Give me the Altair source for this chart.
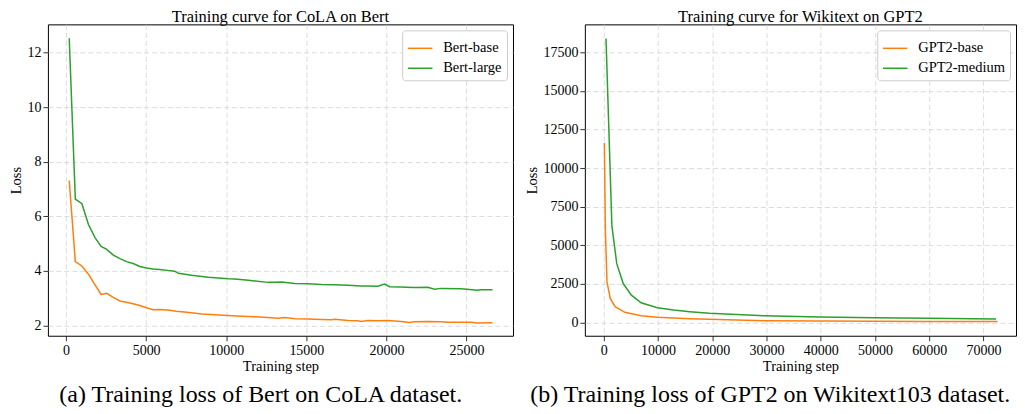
import altair as alt
import pandas as pd

FONT = "Liberation Serif"
ORANGE = "#ff7f0e"
GREEN = "#2ca02c"

# ---- Left panel: CoLA on Bert ----
bert_base_step = [200, 580, 990, 1400, 1820, 2190, 2540, 2950, 3370, 3780, 4190, 4610, 5020, 5430,
                  5850, 6470, 6880, 7220, 7840, 8470, 9300, 10100, 10960, 11790, 12620, 13240,
                  13650, 14280, 15100, 15940, 16560, 16780, 17600, 18200, 18430, 18840, 19500,
                  20090, 20920, 21430, 21750, 22580, 23400, 23820, 24650, 25270, 25690, 26620]
bert_base_loss = [7.31, 4.34, 4.18, 3.88, 3.48, 3.14, 3.18, 3.03, 2.90, 2.85, 2.80, 2.73, 2.65, 2.58,
                  2.59, 2.56, 2.52, 2.50, 2.47, 2.42, 2.39, 2.37, 2.34, 2.32, 2.29, 2.27,
                  2.29, 2.25, 2.24, 2.22, 2.21, 2.23, 2.18, 2.17, 2.15, 2.18, 2.17,
                  2.18, 2.15, 2.11, 2.14, 2.15, 2.14, 2.12, 2.12, 2.12, 2.09, 2.10]

bert_large_step = [200, 580, 990, 1400, 1820, 2190, 2540, 2950, 3370, 3780, 4190, 4610, 5020, 5430,
                   5850, 6470, 6780, 7010, 7840, 8880, 10130, 10540, 11380, 11790, 12620, 13040,
                   13450, 14280, 15100, 15940, 16760, 17600, 18430, 18840, 19460, 19880, 20200,
                   20920, 21230, 21750, 22580, 23000, 23400, 24650, 25690, 25900, 26620]
bert_large_loss = [12.52, 6.63, 6.46, 5.70, 5.21, 4.90, 4.79, 4.58, 4.45, 4.34, 4.27, 4.16, 4.11, 4.07,
                   4.05, 4.01, 3.99, 3.91, 3.84, 3.77, 3.71, 3.70, 3.66, 3.63, 3.58, 3.58,
                   3.59, 3.54, 3.53, 3.50, 3.49, 3.47, 3.45, 3.45, 3.44, 3.52, 3.42,
                   3.41, 3.40, 3.39, 3.40, 3.33, 3.36, 3.35, 3.29, 3.31, 3.31]

# ---- Right panel: Wikitext on GPT2 ----
gpt2_base_step = [120, 300, 600, 1200, 2100, 3890, 6890, 9880, 15870, 19470, 29550, 39900, 49800,
                  59800, 72600]
gpt2_base_loss = [11630, 6060, 2635, 1564, 1028, 664, 450, 343, 257, 214, 128, 100, 86, 72, 64]

gpt2_medium_step = [420, 1500, 2400, 3590, 5090, 6890, 9880, 12880, 15870, 19470, 29550, 39900,
                    49800, 59800, 72330]
gpt2_medium_loss = [18380, 6276, 3813, 2528, 1778, 1285, 964, 814, 707, 600, 450, 364, 321, 278, 236]

left_names = ["Bert-base", "Bert-large"]
right_names = ["GPT2-base", "GPT2-medium"]
left_title = "Training curve for CoLA on Bert"
right_title = "Training curve for Wikitext on GPT2"
caption_a = "(a) Training loss of Bert on CoLA dataset."
caption_b = "(b) Training loss of GPT2 on Wikitext103 dataset."

left_xticks = [0, 5000, 10000, 15000, 20000, 25000]
left_yticks = [2, 4, 6, 8, 10, 12]
right_xticks = [0, 10000, 20000, 30000, 40000, 50000, 60000, 70000]
right_yticks = [0, 2500, 5000, 7500, 10000, 12500, 15000, 17500]


def frame(names, steps_list, loss_list):
    rows = []
    for n, s, l in zip(names, steps_list, loss_list):
        for a, b in zip(s, l):
            rows.append({"model": n, "step": a, "loss": b})
    return pd.DataFrame(rows)


def axis(ticks, title, title_pad, label_pad):
    return alt.Axis(values=ticks, format="d", title=title, domain=False, tickColor="black",
                    tickSize=5, tickWidth=0.8, labelFont=FONT, labelFontSize=14, labelColor="black",
                    titleFont=FONT, titleFontSize=14.5, titleFontWeight="normal", titleColor="black",
                    titlePadding=title_pad, labelPadding=label_pad, grid=True, gridDash=[5, 3],
                    gridColor="#d3d3d3", gridWidth=0.8, labelFlush=False, labelOverlap=False)


def panel(df, names, title, xdom, xticks, ydom, yticks, w, h):
    return alt.Chart(df).mark_line(strokeWidth=1.5, clip=True).encode(
        x=alt.X("step:Q", scale=alt.Scale(domain=xdom, nice=False, zero=False),
                axis=axis(xticks, "Training step", 2, 3)),
        y=alt.Y("loss:Q", scale=alt.Scale(domain=ydom, nice=False, zero=False),
                axis=axis(yticks, "Loss", 3.5, 2)),
        color=alt.Color("model:N", sort=names,
                        scale=alt.Scale(domain=names, range=[ORANGE, GREEN]),
                        legend=alt.Legend(title=None, orient="top-right", offset=6, padding=5,
                                          fillColor="white", strokeColor="#cccccc",
                                          cornerRadius=3, symbolType="stroke", symbolSize=600,
                                          symbolStrokeWidth=1.5, labelFont=FONT,
                                          labelFontSize=14.5, labelColor="black", labelOffset=10,
                                          rowPadding=-4, labelLimit=0)),
    ).properties(
        width=w, height=h,
        title=alt.TitleParams(title, font=FONT, fontSize=16.5, fontWeight="normal",
                              color="black", frame="group", anchor="middle", offset=-1),
        view=alt.ViewBackground(stroke="black", strokeWidth=1),
    )


def column(p, text):
    return alt.vconcat(
        p,
        title=alt.TitleParams(text, orient="bottom", anchor="middle", font=FONT, fontSize=24,
                              fontWeight="normal", color="black", offset=9),
    ).resolve_scale(color="independent").resolve_legend(color="independent")


left_df = frame(left_names, [bert_base_step, bert_large_step], [bert_base_loss, bert_large_loss])
right_df = frame(right_names, [gpt2_base_step, gpt2_medium_step], [gpt2_base_loss, gpt2_medium_loss])

left = panel(left_df, left_names, left_title, [-1130, 27900], left_xticks, [1.625, 13.03],
             left_yticks, 466, 312)
right = panel(right_df, right_names, right_title, [-3480, 76000], right_xticks, [-850, 19300],
              right_yticks, 432, 312)

chart = alt.hconcat(column(left, caption_a), column(right, caption_b), spacing=10).resolve_scale(
    color="independent"
).resolve_legend(color="independent").properties(
    padding=0, background="white"
)

chart.save("out.html", embed_options={"renderer": "svg", "actions": False})
